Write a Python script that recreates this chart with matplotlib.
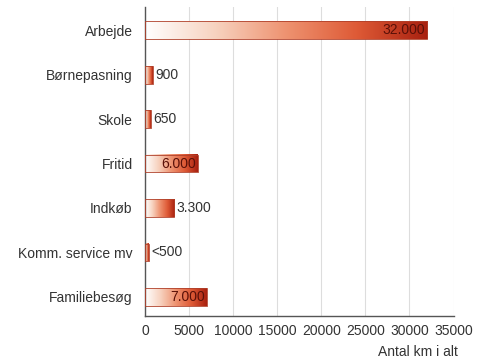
import numpy as np
import matplotlib.pyplot as plt
from matplotlib.colors import LinearSegmentedColormap
from matplotlib.patches import Rectangle

plt.rcParams["font.family"] = ["Liberation Sans", "DejaVu Sans"]
plt.rcParams["font.size"] = 10

categories = ["Arbejde", "Børnepasning", "Skole", "Fritid", "Indkøb",
              "Komm. service mv", "Familiebesøg"]
km = [32000, 900, 650, 6000, 3300, 400, 7000]
value_labels = ["32.000", "900", "650", "6.000", "3.300", "<500", "7.000"]
label_inside = [True, False, False, True, False, False, True]

grad = LinearSegmentedColormap.from_list(
    "bar", ["#ffffff", "#f7d2bf", "#ee9270", "#de5a36", "#a8200f"])

fig = plt.figure(figsize=(4.82, 3.59), dpi=100)
ax = fig.add_axes([0.301, 0.12, 0.64, 0.86])

bar_h = 0.4
xs = np.linspace(0, 1, 256).reshape(1, -1)
for i, (v, lab, inside) in enumerate(zip(km, value_labels, label_inside)):
    y0 = i - bar_h / 2
    # horizontal gradient stretched over each bar
    ax.imshow(xs, cmap=grad, aspect="auto", extent=(0, v, y0 + bar_h, y0),
              zorder=2, interpolation="bilinear")
    ax.add_patch(Rectangle((0, y0), v, bar_h, fill=False,
                           edgecolor="#b0402a", linewidth=0.6, zorder=3))
    if inside:
        ax.text(v - 250, i, lab, ha="right", va="center", color="#5a1008",
                zorder=4)
    else:
        ax.text(v + 300, i, lab, ha="left", va="center", color="#333333",
                zorder=4)

ax.set_xlim(0, 35000)
ax.set_ylim(6.43, -0.52)
ax.set_yticks(range(len(categories)))
ax.set_yticklabels(categories)
ax.set_xticks(range(0, 35001, 5000))
ax.tick_params(axis="both", length=0, colors="#333333")
ax.tick_params(axis="x", pad=6)
ax.tick_params(axis="y", pad=9)

ax.grid(axis="x", color="#dddddd", linewidth=0.8, zorder=0)
ax.set_axisbelow(True)
for side in ("top", "right"):
    ax.spines[side].set_visible(False)
ax.spines["left"].set_color("#555555")
ax.spines["bottom"].set_color("#555555")
ax.spines["left"].set_linewidth(1.0)
ax.spines["bottom"].set_linewidth(1.0)

fig.text(0.95, 0.0, "Antal km i alt", ha="right", va="bottom",
         color="#333333")

fig.savefig("out.png", dpi=100)
